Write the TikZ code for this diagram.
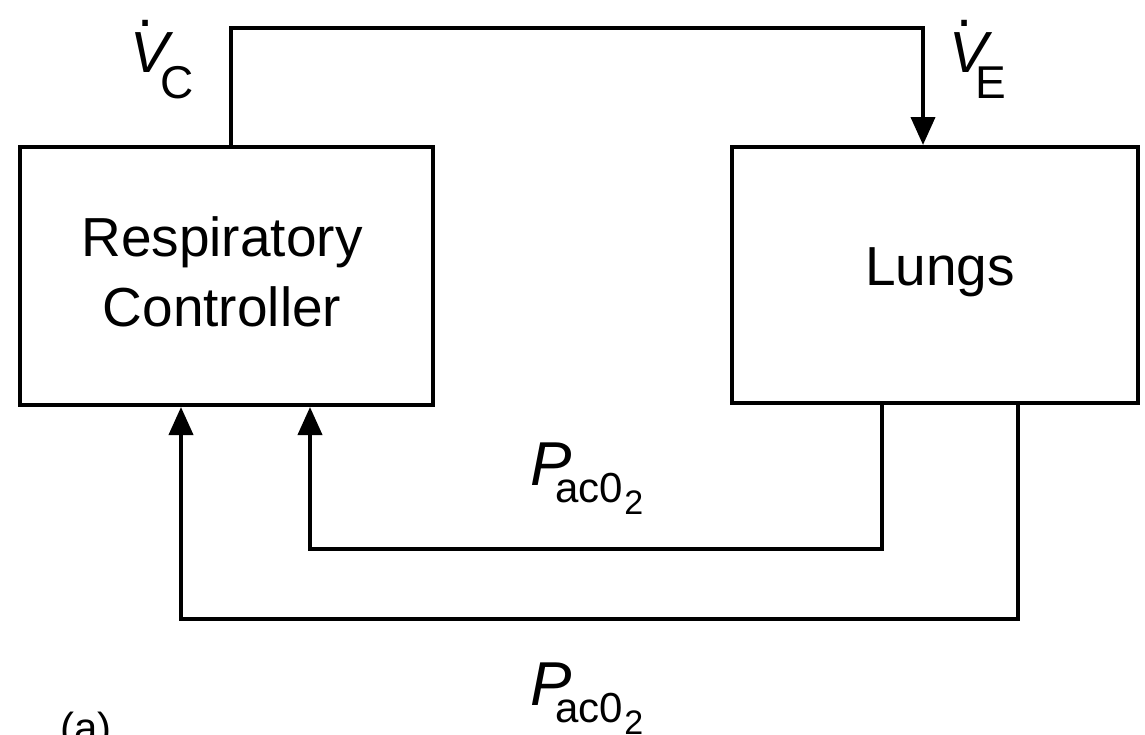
\documentclass[tikz,border=0pt]{standalone}
\usepackage{fontspec}
\setmainfont{Liberation Sans}
\usetikzlibrary{arrows.meta}
\newcommand\dotV{\leavevmode\setbox0\hbox{\itshape V}\rlap{\hbox to\wd0{\hss\raisebox{0.78em}{\upshape.}\hss\hss}}\box0}
\newcommand\Plabel{\fontsize{62}{62}\selectfont\itshape P\kern-16pt\raisebox{-17pt}{\fontsize{42}{42}\selectfont\upshape ac0\kern1pt\raisebox{-12pt}{\fontsize{34}{34}\selectfont 2}}}
\begin{document}
\begin{tikzpicture}[x=1pt,y=-1pt,
  blk/.style={draw,line width=4pt,inner sep=0pt,align=center,
    font=\fontsize{55}{70}\selectfont},
  wire/.style={line width=4pt},
  arr/.style={wire,-{Triangle[width=24pt,length=28pt]}},
  lab/.style={inner sep=0pt}]
\useasboundingbox (0,0) rectangle (1145,734);
\fill[white] (0,0) rectangle (1145,734);
\node[blk,minimum width=413pt,minimum height=258pt] (L) at (226.5,276) {};
\node[align=center,font=\fontsize{55}{70}\selectfont,inner sep=0pt] (Lt) at (222,272) {Respiratory\\Controller};
\node[blk,minimum width=406pt,minimum height=256pt] (R) at (935,275) {};
\node[font=\fontsize{55}{70}\selectfont,inner sep=0pt] (Rt) at (940,272) {Lungs};
\draw[arr] ([xshift=213pt]L.north west) -- ++(0,-117) -| ([xshift=193pt]R.north west);
\draw[arr] ([xshift=152pt]R.south west) -- ++(0,144) -| ([xshift=292pt]L.south west);
\draw[arr] ([xshift=288pt]R.south west) -- ++(0,214) -| ([xshift=163pt]L.south west);
\node[lab,anchor=base west] (vc) at (130,72) {\fontsize{58}{58}\selectfont\dotV\kern-8pt\raisebox{-26pt}{\fontsize{46}{46}\selectfont C}};
\node[lab,anchor=base west] (ve) at (949,72) {\fontsize{58}{58}\selectfont\dotV\kern-12pt\raisebox{-26pt}{\fontsize{46}{46}\selectfont E}};
\node[lab,anchor=base west] (p1) at (530,485) {\Plabel};
\node[lab,anchor=base west] (p2) at (530,705) {\Plabel};
\node[lab,anchor=base west] (a) at (60,742) {\fontsize{42}{42}\selectfont (a)};
\end{tikzpicture}
\end{document}
